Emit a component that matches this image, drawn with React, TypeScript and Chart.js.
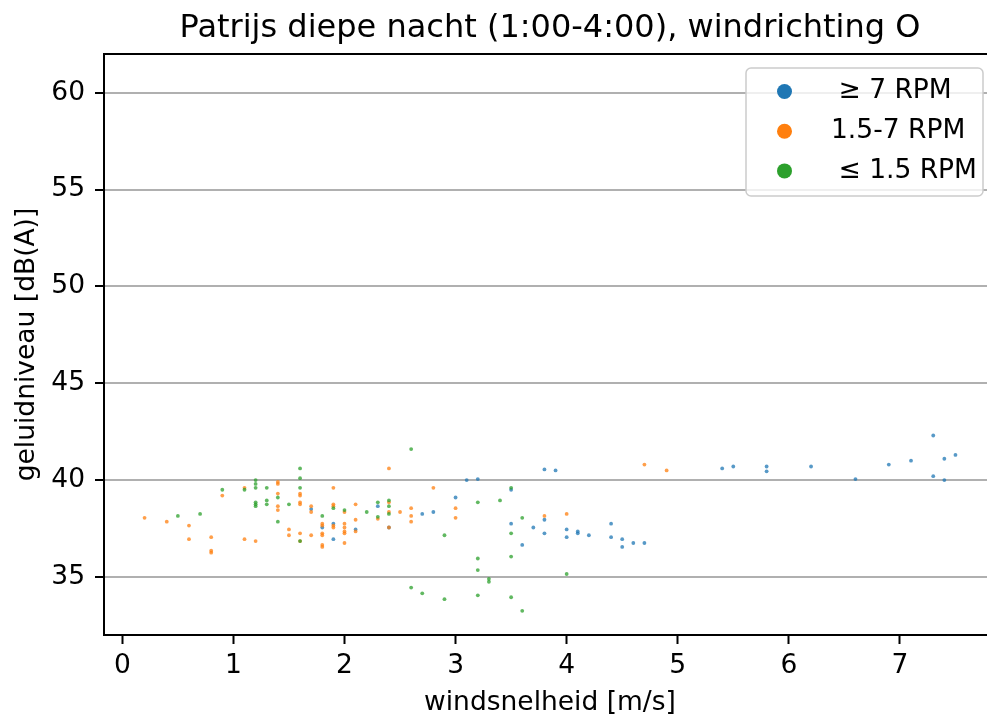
import React, { useEffect, useRef } from 'react';
import { Chart, registerables } from 'chart.js';

Chart.register(...registerables);

// ---- data ----
const titleText = 'Patrijs diepe nacht (1:00-4:00), windrichting O';
const xLabel = 'windsnelheid [m/s]';
const yLabel = 'geluidniveau [dB(A)]';
const seriesLabels = ['\u2265 7 RPM', '1.5-7 RPM', '\u2264 1.5 RPM'];
const seriesColors = ['#1f77b4', '#ff7f0e', '#2ca02c'];
const xTicks = [0, 1, 2, 3, 4, 5, 6, 7];
const yTicks = [35, 40, 45, 50, 55, 60];
const xMin = -0.165;
const xMax = 7.865;
const yMin = 32;
const yMax = 62;

// >= 7 RPM
const highX = [1.7, 1.8, 1.9, 1.9, 2.1, 2.3, 2.4, 2.7, 2.8, 3.0, 3.1, 3.2, 3.5, 3.5, 3.6, 3.7, 3.8, 3.8, 3.8, 3.9, 4.0, 4.0, 4.1, 4.1, 4.2, 4.4, 4.4, 4.5, 4.5, 4.6, 4.7, 5.4, 5.5, 5.8, 5.8, 6.2, 6.6, 6.9, 7.1, 7.3, 7.3, 7.4, 7.4, 7.5];
const highY = [38.5, 37.55, 37.75, 36.95, 37.45, 38.65, 37.55, 38.25, 38.35, 39.1, 40.0, 40.05, 39.5, 37.75, 36.65, 37.55, 40.55, 37.95, 37.25, 40.5, 37.45, 37.05, 37.35, 37.25, 37.15, 37.75, 37.05, 36.95, 36.55, 36.75, 36.75, 40.6, 40.7, 40.7, 40.45, 40.7, 40.05, 40.8, 41.0, 42.3, 40.2, 41.1, 40.0, 41.3];

// 1.5-7 RPM
const midX = [0.2, 0.4, 0.6, 0.6, 0.8, 0.8, 0.8, 0.9, 1.1, 1.1, 1.2, 1.4, 1.4, 1.4, 1.4, 1.4, 1.5, 1.5, 1.6, 1.6, 1.6, 1.6, 1.6, 1.6, 1.7, 1.7, 1.7, 1.8, 1.8, 1.8, 1.8, 1.8, 1.8, 1.9, 1.9, 1.9, 1.9, 1.9, 2.0, 2.0, 2.0, 2.0, 2.0, 2.0, 2.1, 2.1, 2.1, 2.3, 2.4, 2.4, 2.4, 2.4, 2.5, 2.6, 2.6, 2.6, 2.8, 3.0, 3.0, 3.8, 4.0, 4.7, 4.9];
const midY = [38.05, 37.85, 37.65, 36.95, 37.05, 36.35, 36.25, 39.2, 39.6, 36.95, 36.85, 39.9, 39.8, 39.3, 38.65, 38.45, 37.45, 37.15, 39.3, 39.2, 38.85, 38.75, 37.25, 36.85, 38.65, 38.35, 37.15, 37.75, 37.65, 37.25, 37.15, 36.65, 36.55, 39.6, 38.75, 38.65, 37.65, 37.55, 38.35, 37.75, 37.55, 37.35, 37.25, 36.75, 38.75, 37.95, 37.35, 38.0, 40.6, 38.85, 38.35, 37.55, 38.35, 38.55, 38.15, 37.85, 39.6, 38.55, 38.05, 38.15, 38.25, 40.8, 40.5];

// <= 1.5 RPM
const lowX = [0.5, 0.7, 0.9, 1.1, 1.2, 1.2, 1.2, 1.2, 1.2, 1.2, 1.3, 1.3, 1.3, 1.4, 1.4, 1.5, 1.6, 1.6, 1.6, 1.6, 1.8, 1.9, 2.0, 2.2, 2.3, 2.3, 2.4, 2.4, 2.4, 2.6, 2.6, 2.7, 2.9, 2.9, 3.2, 3.2, 3.2, 3.2, 3.3, 3.3, 3.4, 3.5, 3.5, 3.5, 3.5, 3.6, 3.6, 4.0];
const lowY = [38.15, 38.25, 39.5, 39.5, 40.0, 39.8, 39.6, 38.85, 38.75, 38.65, 39.6, 38.95, 38.75, 39.1, 37.85, 38.75, 40.6, 40.1, 39.6, 36.85, 38.15, 38.55, 38.45, 38.35, 38.85, 38.1, 38.95, 38.65, 38.25, 41.6, 34.45, 34.15, 37.15, 33.85, 38.85, 35.95, 35.35, 34.05, 34.9, 34.75, 38.95, 39.6, 37.25, 36.05, 33.95, 38.05, 33.25, 35.15];

const seriesX = [highX, midX, lowX];
const seriesY = [highY, midY, lowY];

const FONT = 'DejaVu Sans';

function rgba(hex: string, a: number) {
  const n = parseInt(hex.slice(1), 16);
  return `rgba(${(n >> 16) & 255},${(n >> 8) & 255},${n & 255},${a})`;
}

const framePlugin = {
  id: 'mplFrame',
  afterDraw(chart: any) {
    const { ctx, chartArea } = chart;
    ctx.save();
    // top spine
    ctx.strokeStyle = '#000';
    ctx.lineWidth = 2;
    ctx.beginPath();
    ctx.moveTo(chartArea.left - 1, chartArea.top);
    ctx.lineTo(chartArea.right, chartArea.top);
    ctx.stroke();
    // title
    ctx.fillStyle = '#000';
    ctx.font = `32px "${FONT}"`;
    ctx.textAlign = 'center';
    ctx.textBaseline = 'alphabetic';
    ctx.fillText(titleText, (chartArea.left + chartArea.right) / 2, chartArea.top - 17);
    // legend
    const w = 237;
    const h = 128;
    const right = chartArea.right - 13;
    const top = chartArea.top + 14;
    const left = right - w;
    ctx.beginPath();
    ctx.roundRect(left, top, w, h, 5);
    ctx.fillStyle = 'rgba(255,255,255,0.8)';
    ctx.fill();
    ctx.strokeStyle = '#cccccc';
    ctx.lineWidth = 1.5;
    ctx.stroke();
    const indent = [7.5, 0, 7.5];
    ctx.font = `26.5px "${FONT}"`;
    ctx.textAlign = 'left';
    ctx.textBaseline = 'middle';
    seriesLabels.forEach((lab, i) => {
      const cy = top + 23.5 + i * 39.7;
      ctx.beginPath();
      ctx.arc(left + 38.5, cy, 7.5, 0, Math.PI * 2);
      ctx.fillStyle = seriesColors[i];
      ctx.fill();
      ctx.fillStyle = '#000';
      ctx.fillText(lab, left + 85 + indent[i], cy);
    });
    ctx.restore();
  },
};

export default function App() {
  const ref = useRef<HTMLCanvasElement | null>(null);
  useEffect(() => {
    if (!ref.current) return;
    const datasets = seriesLabels.map((lab, i) => ({
      label: lab,
      data: seriesX[i].map((x, j) => ({ x, y: seriesY[i][j] })),
      backgroundColor: rgba(seriesColors[i], 0.75),
      borderWidth: 0,
      pointRadius: 1.9,
      order: 3 - i,
    }));
    const chart = new Chart(ref.current, {
      type: 'scatter',
      data: { datasets },
      options: {
        animation: false,
        responsive: false,
        devicePixelRatio: 1,
        events: [],
        layout: { padding: { top: 54, right: 2, bottom: 0, left: 0 } },
        plugins: {
          legend: { display: false },
          title: { display: false },
          tooltip: { enabled: false },
        },
        scales: {
          x: {
            type: 'linear',
            min: xMin,
            max: xMax,
            afterBuildTicks: (s: any) => {
              s.ticks = xTicks.map((v) => ({ value: v }));
            },
            afterFit: (s: any) => {
              s.height = 81;
            },
            grid: {
              display: true,
              drawOnChartArea: false,
              drawTicks: true,
              tickLength: 9,
              tickWidth: 2,
              tickColor: '#000',
            },
            border: { display: true, color: '#000', width: 2 },
            ticks: {
              color: '#000',
              padding: 6,
              maxRotation: 0,
              autoSkip: false,
              font: { family: FONT, size: 26.5 },
              callback: (v: any) => String(v),
            },
            title: {
              display: true,
              text: xLabel,
              color: '#000',
              padding: { top: 0, bottom: 0 },
              font: { family: FONT, size: 26.5, lineHeight: 1 },
            },
          },
          y: {
            type: 'linear',
            min: yMin,
            max: yMax,
            afterBuildTicks: (s: any) => {
              s.ticks = yTicks.map((v) => ({ value: v }));
            },
            afterFit: (s: any) => {
              s.width = 104;
            },
            grid: {
              display: true,
              color: '#b0b0b0',
              lineWidth: 2,
              drawTicks: true,
              tickLength: 9,
              tickWidth: 2,
              tickColor: '#000',
            },
            border: { display: true, color: '#000', width: 2 },
            ticks: {
              color: '#000',
              padding: 10,
              font: { family: FONT, size: 26.5 },
              callback: (v: any) => String(v),
            },
            title: {
              display: true,
              text: yLabel,
              color: '#000',
              padding: { top: 14, bottom: 0 },
              font: { family: FONT, size: 26.5, lineHeight: 1 },
            },
          },
        },
      },
      plugins: [framePlugin],
    } as any);
    return () => chart.destroy();
  }, []);
  return (
    <div
      style={{
        position: 'fixed',
        left: 0,
        top: 0,
        width: 987,
        height: 716,
        overflow: 'hidden',
        background: '#fff',
      }}
    >
      <canvas
        ref={ref}
        width={1000}
        height={716}
        style={{ display: 'block', width: 1000, height: 716 }}
      />
    </div>
  );
}
